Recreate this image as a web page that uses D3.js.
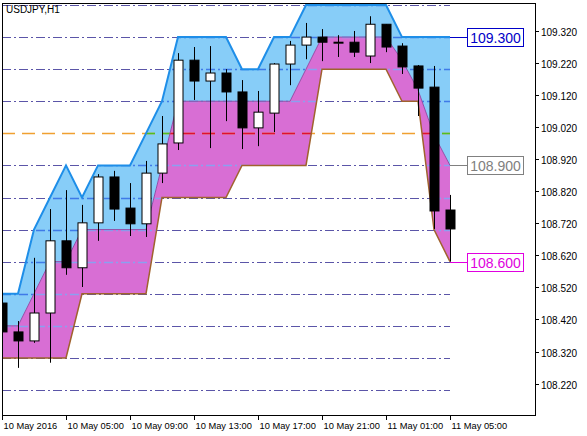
<!doctype html>
<meta charset="utf-8">
<title>USDJPY,H1</title>
<script src="https://d3js.org/d3.v7.min.js"></script>
<style>
body { margin: 0; background: #fff; }
text { font-family: "Liberation Sans", Arial, sans-serif; font-size: 10px; fill: #000; }
.grid { stroke-width: 1; stroke-dasharray: 9,3,2,3; }
</style>
<svg width="587" height="436"></svg>
<script>
// OHLC per hourly bar
var opens  = [108.471,108.381,108.353,108.440,108.665,108.581,108.721,108.864,108.767,108.718,108.876,108.970,109.228,109.163,109.188,109.129,109.017,109.063,109.216,109.275,109.300,109.284,109.284,109.241,109.340,109.272,109.210,109.144,108.761];
var highs  = [108.481,108.415,108.612,108.764,108.823,108.777,108.873,108.883,108.845,108.914,109.054,109.250,109.269,109.272,109.200,109.166,109.132,109.219,109.288,109.344,109.325,109.306,109.319,109.365,109.340,109.281,109.213,109.210,108.808];
var lows   = [108.372,108.269,108.347,108.285,108.559,108.521,108.665,108.727,108.680,108.677,108.845,108.948,109.104,108.954,109.038,108.951,108.960,109.004,109.150,109.231,109.225,109.238,109.238,109.219,109.253,109.185,109.054,108.702,108.600];
var closes = [108.381,108.353,108.440,108.665,108.581,108.721,108.864,108.764,108.718,108.876,108.967,109.228,109.163,109.188,109.129,109.017,109.066,109.216,109.275,109.300,109.284,109.284,109.253,109.340,109.269,109.207,109.141,108.758,108.702];

// channel lines
var upper = [108.5,108.5,108.7,108.8,108.9,108.8,108.9,108.9,108.9,109.0,109.1,109.3,109.3,109.3,109.3,109.2,109.2,109.3,109.3,109.4,109.4,109.4,109.4,109.4,109.4,109.3,109.3,109.3,109.3];
var middle = [108.4,108.4,108.5,108.6,108.6,108.7,108.7,108.7,108.7,108.7,108.9,109.1,109.1,109.1,109.1,109.1,109.1,109.1,109.1,109.2,109.3,109.3,109.3,109.3,109.3,109.228,109.135,108.995,108.9];
var lower  = [108.3,108.3,108.3,108.3,108.3,108.5,108.5,108.5,108.5,108.5,108.8,108.8,108.8,108.8,108.8,108.9,108.9,108.9,108.9,108.9,109.2,109.2,109.2,109.2,109.2,109.1,109.1,108.7,108.6];

var gridLevels = [109.4,109.3,109.2,109.1,108.9,108.8,108.7,108.6,108.5,108.4,108.3,108.2];
var yTicks = [109.32,109.22,109.12,109.02,108.92,108.82,108.72,108.62,108.52,108.42,108.32,108.22];
var xLabels = ["10 May 2016","10 May 05:00","10 May 09:00","10 May 13:00","10 May 17:00","10 May 21:00","11 May 01:00","11 May 05:00"];
var xLabelBars = [0,4,8,12,16,20,24,28];
var priceLabels = [["109.300",109.3,"#0000c8"],["108.900",108.9,"#808080"],["108.600",108.6,"#e000e0"]];

var svg = d3.select("svg");
var x = d3.scaleLinear().domain([0,28]).range([2,450]);
var y = d3.scaleLinear().domain([108.2,109.4]).range([390,5]);
var idx = d3.range(opens.length);

var areaUp = d3.area().x(function(i){return x(i);}).y0(function(i){return y(middle[i]);}).y1(function(i){return y(upper[i]);});
var areaLo = d3.area().x(function(i){return x(i);}).y0(function(i){return y(lower[i]);}).y1(function(i){return y(middle[i]);});

var defs = svg.append("defs");
defs.append("clipPath").attr("id","cUp").append("path").attr("d", areaUp(idx));
defs.append("clipPath").attr("id","cLo").append("path").attr("d", areaLo(idx));
defs.append("clipPath").attr("id","plot").append("rect").attr("x",2).attr("y",3).attr("width",533).attr("height",412);

// fills
svg.append("path").attr("d", areaUp(idx)).attr("fill","#87cdf8");
svg.append("path").attr("d", areaLo(idx)).attr("fill","#d86ed4");

// grid lines, recoloured inside the fills
function gridLines(gridColor, levelColor, clip, w) {
  var g = svg.append("g");
  if (clip) g.attr("clip-path","url(#"+clip+")");
  g.selectAll("line").data(gridLevels).join("line")
    .attr("class","grid").attr("x1",2).attr("x2",450)
    .attr("y1",function(d){return Math.round(y(d))+0.5;}).attr("y2",function(d){return Math.round(y(d))+0.5;})
    .attr("stroke",gridColor).style("stroke-width",w);
  g.append("line").attr("x1",2).attr("x2",450)
    .attr("y1",Math.round(y(109.0))+0.5).attr("y2",Math.round(y(109.0))+0.5)
    .attr("stroke", levelColor).attr("stroke-width",1.6)
    .attr("stroke-dasharray","13,7");
}
gridLines("#5b55a8","#f0a030",null,1);
gridLines("#3f7ae8","#50c020","cUp",1.3);
gridLines("#8aa0f0","#e01030","cLo",1.3);

// channel lines
var line = function(arr){ return d3.line().x(function(i){return x(i);}).y(function(i){return y(arr[i]);})(idx); };
svg.append("path").attr("d", line(lower)).attr("fill","none").attr("stroke","#a0622d").attr("stroke-width",1.5);
svg.append("path").attr("d", line(middle)).attr("fill","none").attr("stroke","#9050a8").attr("stroke-width",1);
svg.append("path").attr("d", line(upper)).attr("fill","none").attr("stroke","#1e8ee8").attr("stroke-width",2);

// candles
var cg = svg.append("g").attr("clip-path","url(#plot)");
cg.selectAll("line.wick").data(idx).join("line").attr("class","wick")
  .attr("x1",function(i){return Math.round(x(i))+0.5;}).attr("x2",function(i){return Math.round(x(i))+0.5;})
  .attr("y1",function(i){return y(highs[i]);}).attr("y2",function(i){return y(lows[i]);})
  .attr("stroke","#000");
cg.selectAll("rect.body").data(idx).join("rect").attr("class","body")
  .attr("x",function(i){return Math.round(x(i))-4;}).attr("width",9)
  .attr("y",function(i){return y(Math.max(opens[i],closes[i]));})
  .attr("height",function(i){return Math.max(1, Math.abs(y(opens[i])-y(closes[i])));})
  .attr("fill",function(i){return closes[i] >= opens[i] ? "#fff" : "#000";})
  .attr("stroke","#000");

// price labels on the right
priceLabels.forEach(function(p){
  var yy = Math.round(y(p[1]))+0.5;
  svg.append("line").attr("x1",450).attr("x2",467).attr("y1",yy).attr("y2",yy).attr("stroke",p[2]);
  svg.append("rect").attr("x",467.5).attr("y",yy-9).attr("width",56).attr("height",18).attr("fill","#fff").attr("stroke",p[2]);
  svg.append("text").attr("x",495.5).attr("y",yy+5).attr("text-anchor","middle").style("font-size","14px").style("fill",p[2]).text(p[0]);
});

// frame and axes
svg.append("rect").attr("x",2.5).attr("y",3.5).attr("width",533).attr("height",412).attr("fill","none").attr("stroke","#000");
yTicks.forEach(function(t){
  var yy = Math.round(y(t))+0.5;
  svg.append("line").attr("x1",535).attr("x2",539).attr("y1",yy).attr("y2",yy).attr("stroke","#000");
  svg.append("text").attr("x",541).attr("y",yy+4).text(t.toFixed(3));
});
xLabelBars.forEach(function(b,k){
  var xx = Math.round(x(b))+0.5;
  svg.append("line").attr("x1",xx).attr("x2",xx).attr("y1",415).attr("y2",420).attr("stroke","#000");
  svg.append("text").attr("x",xx+1).attr("y",429).style("font-size","9.3px").text(xLabels[k]);
});
svg.append("text").attr("x",6).attr("y",13).text("USDJPY,H1");
</script>
